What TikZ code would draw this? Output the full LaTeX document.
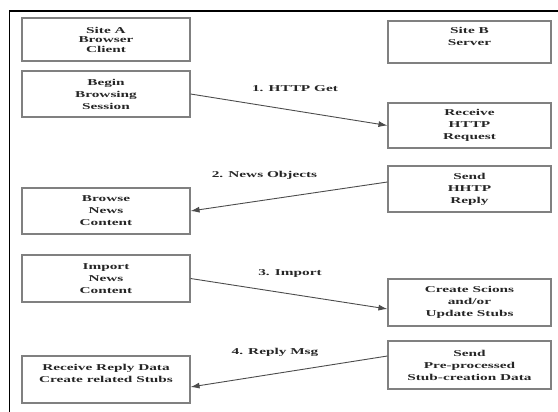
\documentclass[tikz,border=0pt]{standalone}
\usepackage{fontspec}
\setmainfont{Liberation Serif}[FakeStretch=1.7]
\usetikzlibrary{arrows.meta,calc}
\tikzset{
  box/.style={draw=black!50, line width=1.1pt, rectangle, align=center,
    font=\fontsize{9}{12}\selectfont\bfseries, text=black!85, inner sep=0pt},
  lbox/.style={box, minimum width=168pt},
  rbox/.style={box, minimum width=163pt},
  lbl/.style={font=\fontsize{9}{12}\selectfont\bfseries, text=black!85, inner sep=0pt},
  msg/.style={draw=black!70, line width=0.9pt, -{Latex[length=9pt,width=6pt]}}
}
\begin{document}
\begin{tikzpicture}[x=1pt,y=-1pt]
\useasboundingbox (0,0) rectangle (558,412);
% frame
\draw[line width=1.6pt] (9.5,412) -- (9.5,11) -- (558,11);
% left column
\node[lbox, minimum height=43pt, font=\fontsize{9}{9.5}\selectfont\bfseries] (siteA) at (106,39.5) {Site A\\Browser\\Client};
\node[lbox, minimum height=46pt] (begin) at (106,94) {Begin\\Browsing\\Session};
\node[lbox, minimum height=46pt] (browse) at (106,211) {Browse\\News\\Content};
\node[lbox, minimum height=47pt] (import) at (106,278.5) {Import\\News\\Content};
\node[lbox, minimum height=47pt] (recvreply) at (106,379.5) {Receive Reply Data\\Create related Stubs\\\mbox{}};
% right column
\node[rbox, minimum height=42pt] (siteB) at (469.5,42) {Site B\\Server\\\mbox{}};
\node[rbox, minimum height=45pt] (recvhttp) at (469.5,125.5) {Receive\\HTTP\\Request};
\node[rbox, minimum height=46pt] (sendhttp) at (469.5,189) {Send\\HHTP\\Reply};
\node[rbox, minimum height=47pt] (create) at (469.5,302.5) {Create Scions\\and/or\\Update Stubs};
\node[rbox, minimum height=48pt] (sendpre) at (469.5,365) {Send\\Pre-processed\\Stub-creation Data};
% messages
\draw[msg] (begin.east) -- (recvhttp.west);
\draw[msg] ($(sendhttp.west)+(0,-7)$) -- (browse.east);
\draw[msg] (import.east) -- ($(create.west)+(0,6.5)$);
\draw[msg] ($(sendpre.west)+(0,-9)$) -- ($(recvreply.east)+(0,7.5)$);
% labels
\node[lbl] (l1) at (295,89) {1. HTTP Get};
\node[lbl] (l2) at (264.5,175) {2. News Objects};
\node[lbl] (l3) at (290,273) {3. Import};
\node[lbl] (l4) at (275,352) {4. Reply Msg};
\end{tikzpicture}
\end{document}
